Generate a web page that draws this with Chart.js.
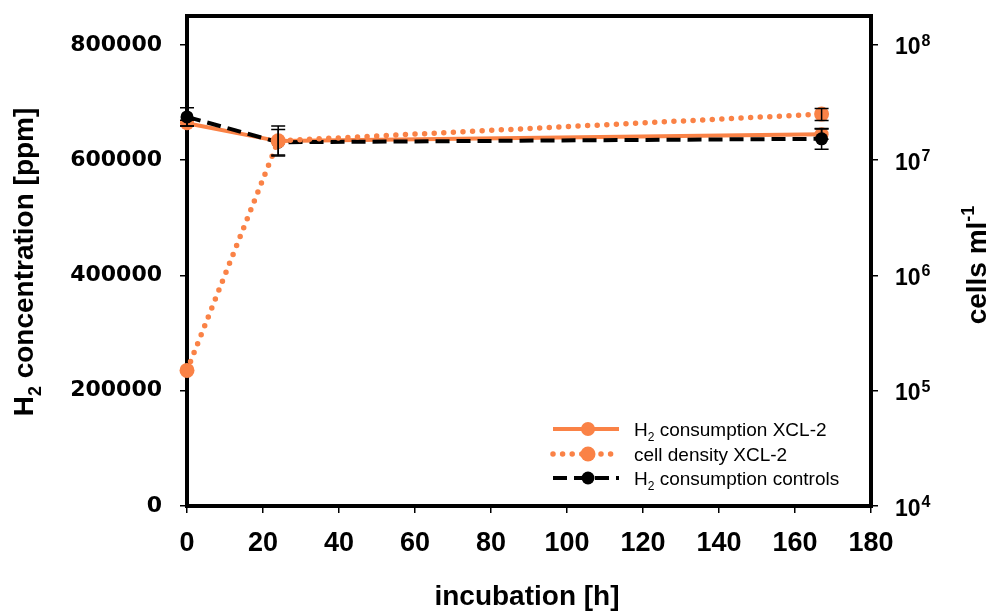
<!DOCTYPE html>
<html>
<head>
<meta charset="utf-8">
<script src="https://cdn.jsdelivr.net/npm/chart.js@4.4.1/dist/chart.umd.min.js"></script>
<style>
  html, body { margin: 0; padding: 0; background: #fff; }
</style>
</head>
<body>
<canvas id="chart" width="998" height="612"></canvas>
<script>
// incubation time points [h]
const times = [0, 24, 167];

// H2 concentration [ppm], left axis
const h2Xcl2 = [664000, 633000, 645000];
const h2Xcl2Err = [5000, 26000, 9000];
const h2Controls = [675000, 631000, 637000];
const h2ControlsErr = [16000, 22000, 18000];

// cells per ml, right (log) axis
const cellDensity = [150000, 14700000, 25100000];
const cellDensityErr = [0, 0, 3000000];

const xTicks = [0, 20, 40, 60, 80, 100, 120, 140, 160, 180];
const leftTicks = [0, 200000, 400000, 600000, 800000];
const rightTicks = [1e4, 1e5, 1e6, 1e7, 1e8];
const rightExponents = ["4", "5", "6", "7", "8"];

const ORANGE = "#fa8246";
const SANS = "'Liberation Sans', Arial, Helvetica, sans-serif";

Chart.defaults.font.family = SANS;
Chart.defaults.color = "#000";

const toPoints = (ys) => times.map((t, i) => ({ x: t, y: ys[i] }));

// draw text made of normal / sub / sup pieces
function drawRich(ctx, parts, x, y, size, weight, align) {
  let total = 0;
  parts.forEach(p => {
    const s = p.sub || p.sup ? Math.round(size * 0.65) : size;
    p.font = weight + " " + s + "px " + SANS;
    ctx.font = p.font;
    p.w = ctx.measureText(p.t).width;
    total += p.w;
  });
  let cx = align === "center" ? x - total / 2 : x;
  ctx.textAlign = "left";
  ctx.textBaseline = "alphabetic";
  parts.forEach(p => {
    ctx.font = p.font;
    let dy = 0;
    if (p.sub) dy = size * 0.28;
    if (p.sup) dy = -size * 0.42;
    ctx.fillText(p.t, cx, y + dy);
    cx += p.w;
  });
}

function labelParts(label) {
  if (label.startsWith("H2")) {
    return [{ t: "H" }, { t: "2", sub: true }, { t: label.slice(2) }];
  }
  return [{ t: label }];
}

const errorBars = {
  id: "errorBars",
  afterDatasetsDraw(chart) {
    const ctx = chart.ctx;
    const xs = chart.scales.x;
    ctx.save();
    ctx.strokeStyle = "#000";
    ctx.lineWidth = 1.5;
    chart.data.datasets.forEach((ds) => {
      const ys = chart.scales[ds.yAxisID];
      ds.errors.forEach((e, i) => {
        if (!e) return;
        const v = ds.data[i].y;
        const px = xs.getPixelForValue(ds.data[i].x);
        const top = ys.getPixelForValue(v + e);
        const bot = ys.getPixelForValue(v - e);
        ctx.beginPath();
        ctx.moveTo(px, top); ctx.lineTo(px, bot);
        ctx.moveTo(px - 7, top); ctx.lineTo(px + 7, top);
        ctx.moveTo(px - 7, bot); ctx.lineTo(px + 7, bot);
        ctx.stroke();
      });
    });
    ctx.restore();
  }
};

const frameAndText = {
  id: "frameAndText",
  beforeDatasetsDraw(chart) {
    const { ctx, chartArea: a } = chart;
    ctx.save();
    ctx.strokeStyle = "#000";
    ctx.lineWidth = 4;
    ctx.strokeRect(a.left, a.top, a.right - a.left, a.bottom - a.top);
    ctx.restore();
  },
  afterDraw(chart) {
    const { ctx } = chart;
    const y2 = chart.scales.y2;
    ctx.save();
    ctx.fillStyle = "#000";

    // right axis tick labels 10^n
    rightTicks.forEach((v, i) => {
      const py = y2.getPixelForValue(v);
      ctx.font = "bold 23px " + SANS;
      ctx.textAlign = "left";
      ctx.textBaseline = "alphabetic";
      ctx.fillText("10", 895, py + 9.5);
      const w = ctx.measureText("10").width;
      ctx.font = "bold 16px " + SANS;
      ctx.fillText(rightExponents[i], 895 + w + 1, py + 1);
    });

    // x title
    drawRich(ctx, [{ t: "incubation [h]" }], 527, 605, 28, "bold", "center");

    // left title
    ctx.save();
    ctx.translate(33, 262);
    ctx.rotate(-Math.PI / 2);
    drawRich(ctx, [{ t: "H" }, { t: "2", sub: true }, { t: " concentration [ppm]" }], 0, 0, 28, "bold", "center");
    ctx.restore();

    // right title
    ctx.save();
    ctx.translate(986, 265);
    ctx.rotate(-Math.PI / 2);
    drawRich(ctx, [{ t: "cells ml" }, { t: "-1", sup: true }], 0, 0, 28, "bold", "center");
    ctx.restore();

    // legend
    const rows = [429, 454, 478];
    chart.data.datasets.forEach((ds, r) => {
      const y = rows[r];
      ctx.save();
      ctx.strokeStyle = ds.borderColor;
      ctx.lineWidth = ds.borderWidth;
      ctx.lineCap = ds.borderCapStyle || "butt";
      ctx.setLineDash(ds.borderDash || []);
      ctx.beginPath();
      ctx.moveTo(553, y);
      ctx.lineTo(619, y);
      ctx.stroke();
      ctx.setLineDash([]);
      ctx.fillStyle = ds.backgroundColor;
      ctx.beginPath();
      ctx.arc(588, y, ds.pointRadius, 0, Math.PI * 2);
      ctx.fill();
      ctx.restore();
      ctx.fillStyle = "#000";
      drawRich(ctx, labelParts(ds.label), 634, y + 6.8, 19, "normal", "left");
    });
    ctx.restore();
  }
};

const noPad = s => { s.paddingTop = 0; s.paddingBottom = 0; s.paddingLeft = 0; s.paddingRight = 0; };

new Chart(document.getElementById("chart"), {
  type: "line",
  data: {
    datasets: [
      {
        label: "H2 consumption XCL-2",
        data: toPoints(h2Xcl2),
        errors: h2Xcl2Err,
        yAxisID: "y",
        borderColor: ORANGE,
        backgroundColor: ORANGE,
        borderWidth: 4,
        pointRadius: 7,
        pointBorderWidth: 0,
        clip: false,
        order: 3
      },
      {
        label: "cell density XCL-2",
        data: toPoints(cellDensity),
        errors: cellDensityErr,
        yAxisID: "y2",
        borderColor: ORANGE,
        backgroundColor: ORANGE,
        borderWidth: 5.5,
        borderDash: [0, 9.6],
        borderCapStyle: "round",
        pointRadius: 7.5,
        pointBorderWidth: 0,
        clip: false,
        order: 1
      },
      {
        label: "H2 consumption controls",
        data: toPoints(h2Controls),
        errors: h2ControlsErr,
        yAxisID: "y",
        borderColor: "#000",
        backgroundColor: "#000",
        borderWidth: 4,
        borderDash: [14, 7],
        pointRadius: 6.5,
        pointBorderWidth: 0,
        clip: false,
        order: 2
      }
    ]
  },
  options: {
    responsive: false,
    animation: false,
    devicePixelRatio: 1,
    layout: { padding: { top: 16, left: 0, right: 0, bottom: 0 } },
    plugins: {
      legend: { display: false },
      tooltip: { enabled: false }
    },
    scales: {
      x: {
        type: "linear",
        min: 0,
        max: 180,
        afterBuildTicks: s => { s.ticks = xTicks.map(v => ({ value: v })); },
        afterFit: s => { s.height = 106; noPad(s); },
        border: { display: true, color: "#000", width: 4 },
        grid: { drawOnChartArea: false, tickLength: 7, color: "#000", lineWidth: 1.5 },
        ticks: { font: { size: 27, weight: "bold" }, padding: 14, maxRotation: 0, autoSkip: false }
      },
      y: {
        type: "linear",
        position: "left",
        min: 0,
        max: 850000,
        afterBuildTicks: s => { s.ticks = leftTicks.map(v => ({ value: v })); },
        afterFit: s => { s.width = 187; noPad(s); },
        border: { display: true, color: "#000", width: 4 },
        grid: { drawOnChartArea: false, tickLength: 7, color: "#000", lineWidth: 1.5 },
        ticks: {
          font: { family: "'DejaVu Sans', sans-serif", size: 22, weight: "bold" },
          padding: 18,
          callback: v => String(v)
        }
      },
      y2: {
        type: "logarithmic",
        position: "right",
        min: 1e4,
        max: 1.78e8,
        afterBuildTicks: s => { s.ticks = rightTicks.map(v => ({ value: v })); },
        afterFit: s => { s.width = 127; noPad(s); },
        border: { display: true, color: "#000", width: 4 },
        grid: { drawOnChartArea: false, tickLength: 7, color: "#000", lineWidth: 1.5 },
        ticks: { display: false }
      }
    }
  },
  plugins: [errorBars, frameAndText]
});
</script>
</body>
</html>
